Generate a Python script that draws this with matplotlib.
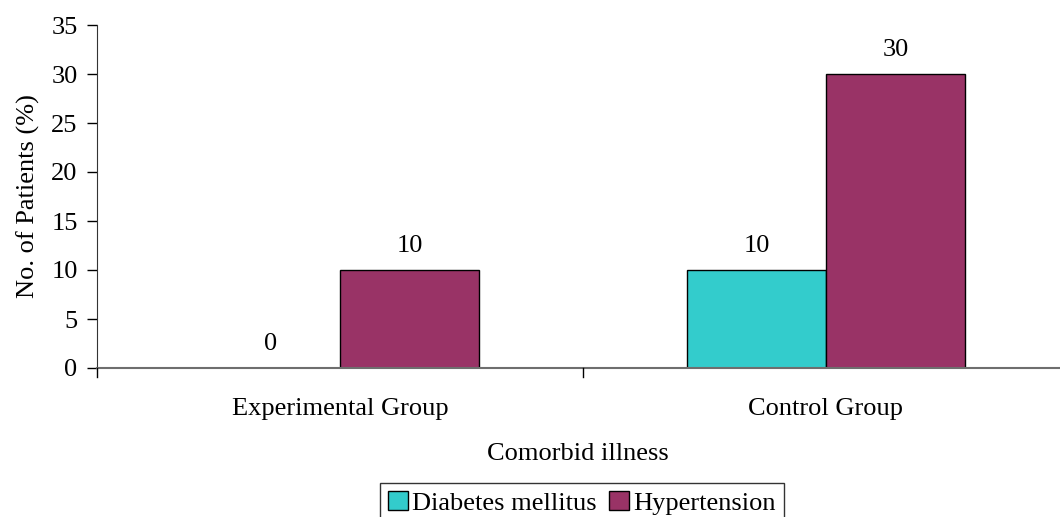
import matplotlib as mpl

mpl.use("Agg")
import matplotlib.pyplot as plt
import numpy as np

mpl.rcParams.update({
    "font.family": "Liberation Serif",
    "font.size": 19,
})

# --- data ---
groups = ["Experimental Group", "Control Group"]
series = ["Diabetes mellitus", "Hypertension"]
diabetes = [0, 10]
hypertension = [10, 30]
colors = ["#33CCCC", "#993366"]

fig = plt.figure(figsize=(10.6, 5.17), dpi=100)
# axes runs past the right edge, like the original export
ax = fig.add_axes([97 / 1060, 1 - 368 / 517, 972 / 1060, 343 / 517])

width = 1 / 3.5  # Excel-style 150% gap width
x = np.arange(len(groups))
for i, (vals, name, col) in enumerate(zip([diabetes, hypertension], series, colors)):
    pos = x + (i - 0.5) * width
    ax.bar(pos, vals, width, color=col, edgecolor="black", linewidth=1.0,
           label=name, zorder=2)
    for xp, v in zip(pos, vals):
        ax.text(xp, v + 1.3, f"{v}", ha="center", va="bottom")

ax.set_xlim(-0.5, len(groups) - 0.5)
ax.set_ylim(0, 35)
ax.set_yticks(range(0, 36, 5))
ax.set_xticks(x)
ax.set_xticklabels(groups)
ax.tick_params(axis="x", length=0, pad=21.5)
ax.tick_params(axis="y", direction="out", length=7, width=1, pad=7)
# category separators below the axis
for b in np.arange(-0.5, len(groups), 1.0):
    ax.plot([b, b], [0, -0.9], color="black", lw=1.0, clip_on=False, zorder=3)

for s in ("top", "right"):
    ax.spines[s].set_visible(False)
ax.spines["left"].set_color("#333333")
ax.spines["bottom"].set_color("#6e6e6e")
ax.spines["bottom"].set_linewidth(1.5)

ax.set_ylabel("No. of Patients (%)", labelpad=8)
fig.text(578 / 1060, 1 - 454 / 517, "Comorbid illness", ha="center", va="center")

leg = fig.legend(loc="upper left", bbox_to_anchor=(380 / 1060, 1 - 483 / 517),
                 ncol=2, frameon=True, fancybox=False, borderpad=0.3,
                 handlelength=0.75, handleheight=0.75, handletextpad=0.15,
                 columnspacing=0.5, borderaxespad=0)
leg.get_frame().set_edgecolor("black")
leg.get_frame().set_linewidth(1.0)

fig.savefig("out.png", dpi=100)
